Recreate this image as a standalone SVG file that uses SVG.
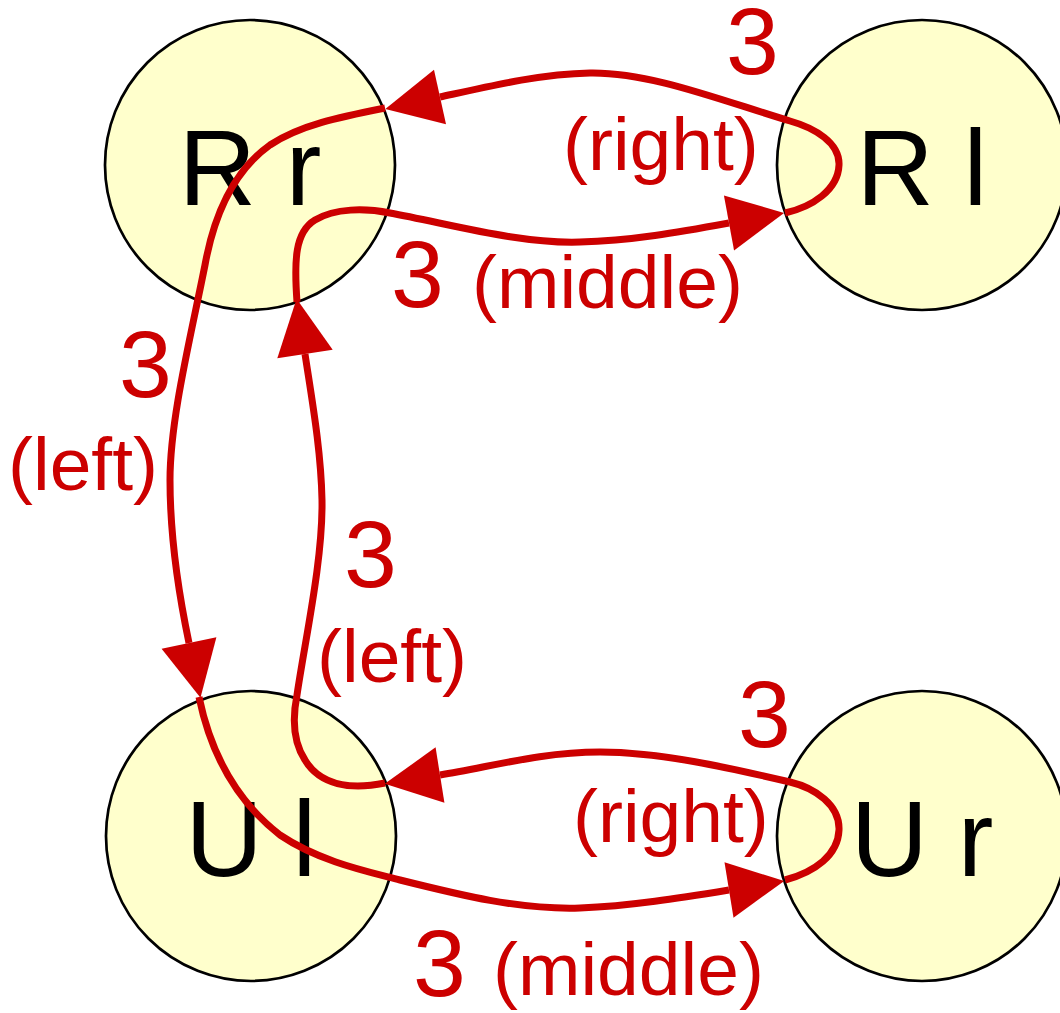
<svg xmlns="http://www.w3.org/2000/svg" width="1060" height="1013" viewBox="0 0 1060 1013">
  <style>
    .node circle { fill: #ffffcc; stroke: #000000; stroke-width: 2.7; }
    .node text { font-family: "Liberation Sans", Arial, sans-serif; font-size: 107px; fill: #000000; text-anchor: middle; }
    .edge path { fill: none; stroke: #cc0000; stroke-width: 7; marker-end: url(#arrow); }
    .num { font-family: "Liberation Sans", Arial, sans-serif; font-size: 95px; fill: #cc0000; }
    .lbl { font-family: "Liberation Sans", Arial, sans-serif; font-size: 75px; fill: #cc0000; }
  </style>
  <defs>
    <marker id="arrow" markerUnits="userSpaceOnUse" markerWidth="60" markerHeight="60" refX="0" refY="0" orient="auto" overflow="visible">
      <polygon points="0,-28 56,0 0,28" fill="#cc0000"/>
    </marker>
  </defs>
  <rect width="1060" height="1013" fill="#ffffff"/>

  <g id="node-Rr" class="node">
    <circle cx="250" cy="165" r="145"/>
    <text x="250" y="205">R r</text>
  </g>
  <g id="node-Rl" class="node">
    <circle cx="922" cy="165" r="145"/>
    <text x="922" y="205">R l</text>
  </g>
  <g id="node-Ul" class="node">
    <circle cx="251" cy="836" r="145"/>
    <text x="251" y="876">U l</text>
  </g>
  <g id="node-Ur" class="node">
    <circle cx="922" cy="836" r="145"/>
    <text x="922" y="876">U r</text>
  </g>

  <g id="connectors">
    <g id="edge-Rl-Rr" class="edge">
      <path d="M 785,213 C 812,207 838,190 839,165 C 840,143 815,128 790,121 C 720,100 650,72 590,73 C 540,74 490,86 440,97"/>
      <text class="num" x="726" y="74">3</text>
      <text class="lbl" x="563" y="170">(right)</text>
    </g>
    <g id="edge-Rr-Rl" class="edge">
      <path d="M 297,302 C 294,260 295,232 315,220 C 335,208 365,208 390,213 C 450,224 520,244 580,242 C 630,241 680,232 729,223"/>
      <text class="num" x="391" y="307">3</text>
      <text class="lbl" x="472" y="308">(middle)</text>
    </g>
    <g id="edge-Rr-Ul" class="edge">
      <path d="M 385,108 C 340,117 300,125 270,145 C 235,170 215,210 205,265 C 190,340 170,420 170,480 C 170,540 180,600 189,643"/>
      <text class="num" x="119" y="397">3</text>
      <text class="lbl" x="8" y="490">(left)</text>
    </g>
    <g id="edge-Ul-Ur" class="edge">
      <path d="M 199,697 C 210,750 235,800 280,835 C 320,862 370,872 400,880 C 460,895 520,910 580,908 C 630,906 680,898 729,890"/>
      <text class="num" x="413" y="996">3</text>
      <text class="lbl" x="493" y="995">(middle)</text>
    </g>
    <g id="edge-Ur-Ul" class="edge">
      <path d="M 785,880 C 815,872 838,855 839,830 C 840,805 815,788 790,782 C 730,768 660,752 600,752 C 540,752 490,767 440,775"/>
      <text class="num" x="738" y="747">3</text>
      <text class="lbl" x="573" y="842">(right)</text>
    </g>
    <g id="edge-Ul-Rr" class="edge">
      <path d="M 385,783 C 350,790 320,785 305,760 C 292,740 293,715 297,695 C 305,640 323,560 322,500 C 321,450 312,400 305,354"/>
      <text class="num" x="344" y="587">3</text>
      <text class="lbl" x="317" y="682">(left)</text>
    </g>
  </g>
</svg>
